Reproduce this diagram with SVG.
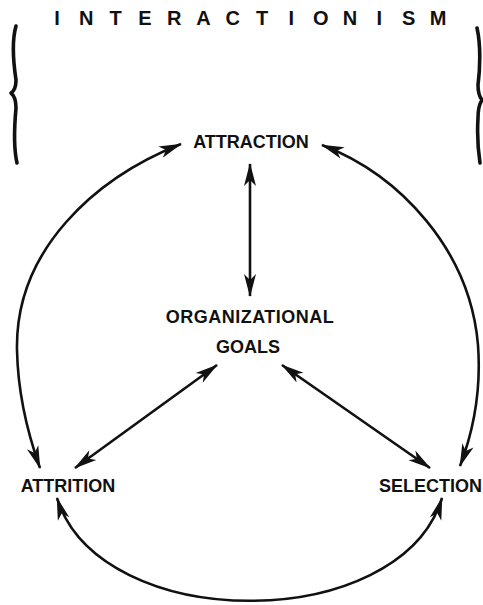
<svg xmlns="http://www.w3.org/2000/svg" width="483" height="605" viewBox="0 0 483 605">
<style>
.lbl{font-family:"Liberation Sans",Arial,sans-serif;font-weight:bold;font-size:18px;fill:#111}
.ttl{font-family:"Liberation Sans",Arial,sans-serif;font-weight:bold;font-size:20px;fill:#111}
.con{fill:none;stroke:#111;stroke-width:2.6}
.brace{fill:none;stroke:#111;stroke-width:3.6;stroke-linecap:round;stroke-linejoin:round}
</style>
<defs>
<marker id="ah" viewBox="-24 -7 26 14" refX="0" refY="0" markerWidth="26" markerHeight="14" markerUnits="userSpaceOnUse" orient="auto-start-reverse">
<path d="M1,0 L-22,-6 L-16,0 L-22,6 Z" fill="#111"/>
</marker>
</defs>
<rect width="483" height="605" fill="#fff"/>
<g id="title">
<text class="ttl" text-anchor="middle" y="25" x="57 86.3 115.6 144.9 174.2 203.5 232.8 262.1 291.4 320.7 350 379.3 408.6 438">INTERACTIONISM</text>
</g>
<g id="braces">
<path class="brace" d="M16,26 C12,40 13,60 16,80 Q16,90 11,93 Q16,97 16,108 C14,130 14,150 17,163"/>
<path class="brace" d="M477,28 C481,45 480,70 478,85 Q478,95 482,100 Q478,106 478,118 C477,135 478,150 480,163"/>
</g>
<g id="attraction"><text class="lbl" x="251" y="148" text-anchor="middle">ATTRACTION</text></g>
<g id="goals"><text class="lbl" x="250" y="323" text-anchor="middle" letter-spacing="0.5">ORGANIZATIONAL</text><text class="lbl" x="248" y="353" text-anchor="middle">GOALS</text></g>
<g id="attrition"><text class="lbl" x="68" y="492" text-anchor="middle">ATTRITION</text></g>
<g id="selection"><text class="lbl" x="482" y="492" text-anchor="end">SELECTION</text></g>
<g id="connectors">
<path class="con" d="M250,164 L250,296" marker-start="url(#ah)" marker-end="url(#ah)"/>
<path class="con" d="M181,144 C95,178 15,250 17,350 C18,400 30,440 40,468" marker-start="url(#ah)" marker-end="url(#ah)"/>
<path class="con" d="M322,145 C400,175 470,250 478,345 C482,400 470,440 460,466" marker-start="url(#ah)" marker-end="url(#ah)"/>
<path class="con" d="M57,498 C100,635 400,635 442,498" marker-start="url(#ah)" marker-end="url(#ah)"/>
<path class="con" d="M217,365 L75,468" marker-start="url(#ah)" marker-end="url(#ah)"/>
<path class="con" d="M282,365 L430,468" marker-start="url(#ah)" marker-end="url(#ah)"/>
</g>
</svg>
